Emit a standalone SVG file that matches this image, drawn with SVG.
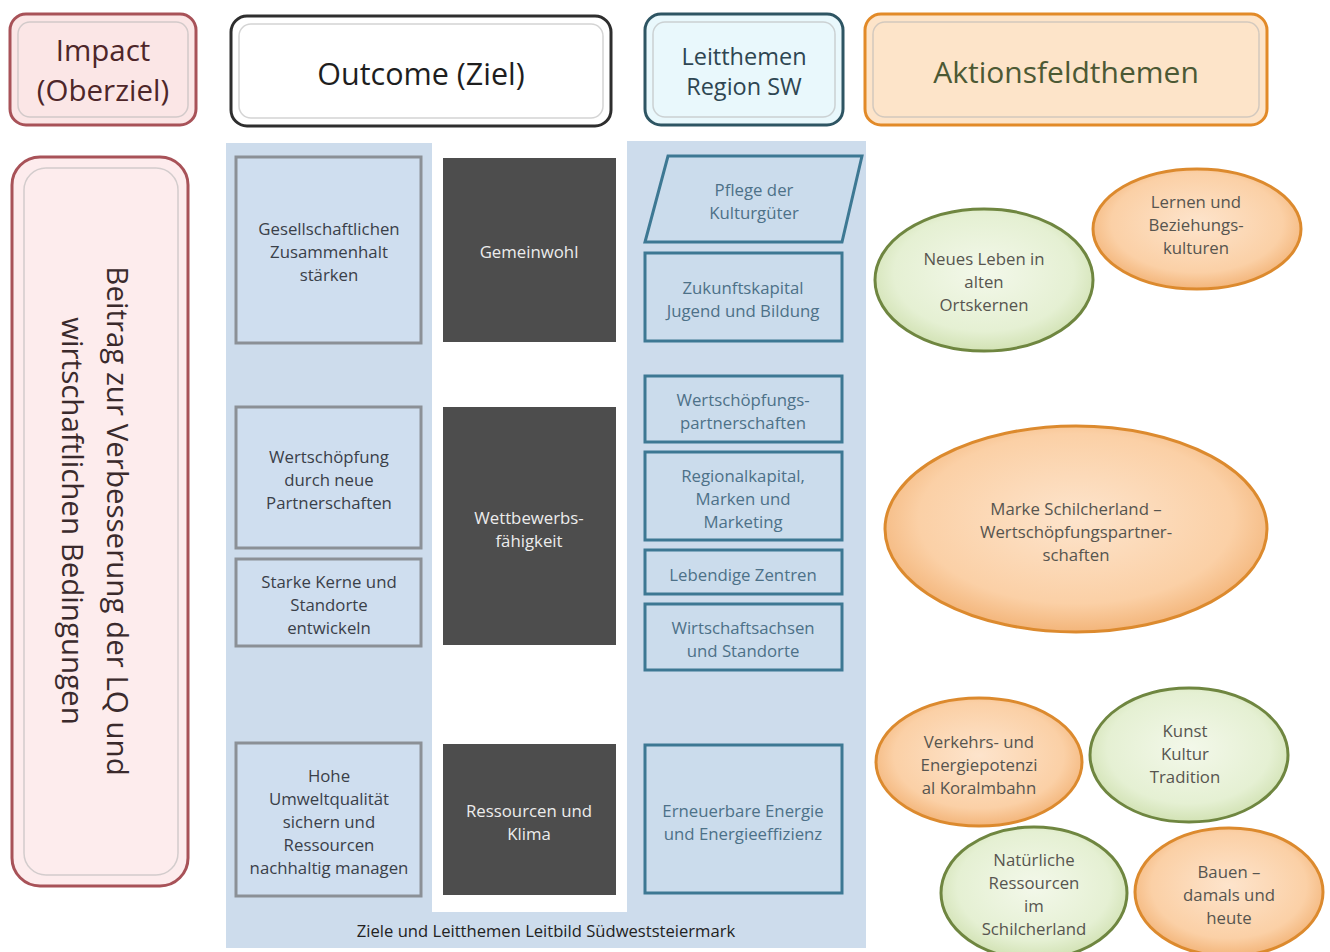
<svg xmlns="http://www.w3.org/2000/svg" width="1330" height="952" viewBox="0 0 1330 952">
<defs>
<radialGradient id="gOr" cx="50%" cy="45%" r="55%">
<stop offset="0" stop-color="#fde4cc"/><stop offset="0.75" stop-color="#fbd0a6"/><stop offset="1" stop-color="#f3b57a"/>
</radialGradient>
<radialGradient id="gGr" cx="50%" cy="45%" r="55%">
<stop offset="0" stop-color="#f3f8ea"/><stop offset="0.75" stop-color="#e5f0d3"/><stop offset="1" stop-color="#d2e2b4"/>
</radialGradient>
<style>
text{font-family:"Open Sans","Noto Sans","DejaVu Sans",sans-serif;text-anchor:middle}
.bg{fill:#cddcec}
.gbox{fill:#cfdeef;stroke:#8b9096;stroke-width:3}
.dbox{fill:#4d4d4d}
.bbox{fill:#cbdcec;stroke:#3d7893;stroke-width:3}
.t16{font-size:16.8px;fill:#3a4049}
.tw{font-size:16.8px;fill:#ececec}
.tb{font-size:16.8px;fill:#4d7188}
.te{font-size:16.8px;fill:#57554f}
.eo{fill:url(#gOr);stroke:#dc8a2e;stroke-width:3}
.eg{fill:url(#gGr);stroke:#6f8640;stroke-width:3}
.bev2{fill:none;stroke:#b8b8b8;stroke-opacity:0.6;stroke-width:1.5}
</style>
</defs>
<rect width="1330" height="952" fill="#ffffff"/>

<g id="background">
<rect class="bg" x="226" y="143" width="206" height="769"/>
<rect class="bg" x="627" y="141" width="239" height="771"/>
<rect class="bg" x="226" y="912" width="640" height="36"/>
<text x="546" y="937" style="font-size:16.6px;fill:#222">Ziele und Leitthemen Leitbild Südweststeiermark</text>
</g>

<g id="hdr-impact">
<rect x="10" y="14" width="186" height="111" rx="16" fill="#fbe6e6" stroke="#a85258" stroke-width="3"/>
<rect class="bev2" x="18" y="22" width="170" height="95" rx="12"/>
<text x="103" y="61" style="font-size:29.5px;fill:#4e2629">Impact</text>
<text x="103" y="101" style="font-size:29.5px;fill:#4e2629">(Oberziel)</text>
</g>
<g id="hdr-outcome">
<rect x="231" y="16" width="380" height="110" rx="16" fill="#ffffff" stroke="#2e2e2e" stroke-width="3"/>
<rect class="bev2" x="239" y="24" width="364" height="94" rx="12"/>
<text x="421" y="85" style="font-size:30.5px;fill:#1e1e1e">Outcome (Ziel)</text>
</g>
<g id="hdr-leitthemen">
<rect x="645" y="14" width="198" height="111" rx="16" fill="#e9f8fc" stroke="#2e5563" stroke-width="3"/>
<rect class="bev2" x="653" y="22" width="182" height="95" rx="12"/>
<text x="744" y="65" style="font-size:23.5px;fill:#2e4652">Leitthemen</text>
<text x="744" y="95" style="font-size:23.5px;fill:#2e4652">Region SW</text>
</g>
<g id="hdr-aktion">
<rect x="865" y="14" width="402" height="111" rx="16" fill="#fde4c9" stroke="#e28a28" stroke-width="3"/>
<rect class="bev2" x="873" y="22" width="386" height="95" rx="12"/>
<text x="1066" y="83" style="font-size:30px;fill:#4c5934">Aktionsfeldthemen</text>
</g>

<g id="impact-main">
<rect x="12" y="157" width="176" height="729" rx="28" fill="#fdeced" stroke="#a85258" stroke-width="3"/>
<rect class="bev2" x="24" y="168" width="154" height="707" rx="22"/>
<text transform="translate(107,521) rotate(90)" style="font-size:29.5px;fill:#3a2a2c">Beitrag zur Verbesserung der LQ und</text>
<text transform="translate(62,521) rotate(90)" style="font-size:29.5px;fill:#3a2a2c">wirtschaftlichen Bedingungen</text>
</g>

<g id="ziel-1">
<rect class="gbox" x="236" y="157" width="185" height="186"/>
<text class="t16" x="329" y="235">Gesellschaftlichen</text>
<text class="t16" x="329" y="258">Zusammenhalt</text>
<text class="t16" x="329" y="281">stärken</text>
</g>
<g id="ziel-2">
<rect class="gbox" x="236" y="407" width="185" height="141"/>
<text class="t16" x="329" y="463">Wertschöpfung</text>
<text class="t16" x="329" y="486">durch neue</text>
<text class="t16" x="329" y="509">Partnerschaften</text>
</g>
<g id="ziel-3">
<rect class="gbox" x="236" y="559" width="185" height="87"/>
<text class="t16" x="329" y="588">Starke Kerne und</text>
<text class="t16" x="329" y="611">Standorte</text>
<text class="t16" x="329" y="634">entwickeln</text>
</g>
<g id="ziel-4">
<rect class="gbox" x="236" y="743" width="185" height="153"/>
<text class="t16" x="329" y="782">Hohe</text>
<text class="t16" x="329" y="805">Umweltqualität</text>
<text class="t16" x="329" y="828">sichern und</text>
<text class="t16" x="329" y="851">Ressourcen</text>
<text class="t16" x="329" y="874">nachhaltig managen</text>
</g>

<g id="gemeinwohl">
<rect class="dbox" x="443" y="158" width="173" height="184"/>
<text class="tw" x="529" y="258">Gemeinwohl</text>
</g>
<g id="wettbewerb">
<rect class="dbox" x="443" y="407" width="173" height="238"/>
<text class="tw" x="529" y="524">Wettbewerbs-</text>
<text class="tw" x="529" y="547">fähigkeit</text>
</g>
<g id="ressourcen">
<rect class="dbox" x="443" y="744" width="173" height="151"/>
<text class="tw" x="529" y="817">Ressourcen und</text>
<text class="tw" x="529" y="840">Klima</text>
</g>

<g id="lt-pflege">
<polygon class="bbox" points="668,156 862,156 842,242 645,242"/>
<text class="tb" x="754" y="196">Pflege der</text>
<text class="tb" x="754" y="219">Kulturgüter</text>
</g>
<g id="lt-zukunft">
<rect class="bbox" x="645" y="253" width="197" height="88"/>
<text class="tb" x="743" y="294">Zukunftskapital</text>
<text class="tb" x="743" y="317">Jugend und Bildung</text>
</g>
<g id="lt-wsp">
<rect class="bbox" x="645" y="376" width="197" height="66"/>
<text class="tb" x="743" y="406">Wertschöpfungs-</text>
<text class="tb" x="743" y="429">partnerschaften</text>
</g>
<g id="lt-regional">
<rect class="bbox" x="645" y="452" width="197" height="88"/>
<text class="tb" x="743" y="482">Regionalkapital,</text>
<text class="tb" x="743" y="505">Marken und</text>
<text class="tb" x="743" y="528">Marketing</text>
</g>
<g id="lt-zentren">
<rect class="bbox" x="645" y="550" width="197" height="44"/>
<text class="tb" x="743" y="581">Lebendige Zentren</text>
</g>
<g id="lt-achsen">
<rect class="bbox" x="645" y="604" width="197" height="66"/>
<text class="tb" x="743" y="634">Wirtschaftsachsen</text>
<text class="tb" x="743" y="657">und Standorte</text>
</g>
<g id="lt-energie">
<rect class="bbox" x="645" y="745" width="197" height="148"/>
<text class="tb" x="743" y="817">Erneuerbare Energie</text>
<text class="tb" x="743" y="840">und Energieeffizienz</text>
</g>

<g id="af-lernen">
<ellipse class="eo" cx="1197" cy="229" rx="104" ry="60"/>
<text class="te" x="1196" y="208">Lernen und</text>
<text class="te" x="1196" y="231">Beziehungs-</text>
<text class="te" x="1196" y="254">kulturen</text>
</g>
<g id="af-neues">
<ellipse class="eg" cx="984" cy="280" rx="109" ry="71"/>
<text class="te" x="984" y="265">Neues Leben in</text>
<text class="te" x="984" y="288">alten</text>
<text class="te" x="984" y="311">Ortskernen</text>
</g>
<g id="af-marke">
<ellipse class="eo" cx="1076" cy="529" rx="191" ry="103"/>
<text class="te" x="1076" y="515">Marke Schilcherland –</text>
<text class="te" x="1076" y="538">Wertschöpfungspartner-</text>
<text class="te" x="1076" y="561">schaften</text>
</g>
<g id="af-verkehr">
<ellipse class="eo" cx="979" cy="762" rx="103" ry="64"/>
<text class="te" x="979" y="748">Verkehrs- und</text>
<text class="te" x="979" y="771">Energiepotenzi</text>
<text class="te" x="979" y="794">al Koralmbahn</text>
</g>
<g id="af-kunst">
<ellipse class="eg" cx="1189" cy="755" rx="99" ry="67"/>
<text class="te" x="1185" y="737">Kunst</text>
<text class="te" x="1185" y="760">Kultur</text>
<text class="te" x="1185" y="783">Tradition</text>
</g>
<g id="af-natur">
<ellipse class="eg" cx="1034" cy="893" rx="93" ry="66"/>
<text class="te" x="1034" y="866">Natürliche</text>
<text class="te" x="1034" y="889">Ressourcen</text>
<text class="te" x="1034" y="912">im</text>
<text class="te" x="1034" y="935">Schilcherland</text>
</g>
<g id="af-bauen">
<ellipse class="eo" cx="1229" cy="892" rx="94" ry="64"/>
<text class="te" x="1229" y="878">Bauen –</text>
<text class="te" x="1229" y="901">damals und</text>
<text class="te" x="1229" y="924">heute</text>
</g>

<g id="connectors"></g>
</svg>
